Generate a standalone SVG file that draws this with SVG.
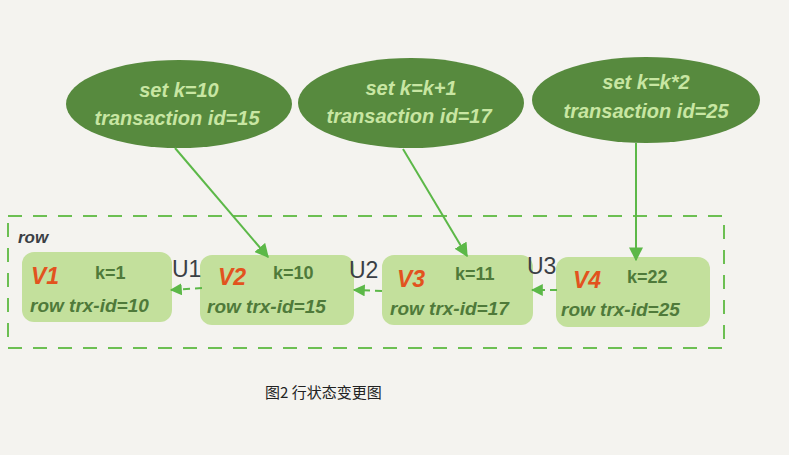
<svg xmlns="http://www.w3.org/2000/svg" width="789" height="455" viewBox="0 0 789 455">
<defs>
<marker id="ah" viewBox="0 0 10 10" refX="9" refY="5" markerWidth="7" markerHeight="7" orient="auto" markerUnits="strokeWidth">
<path d="M0,0 L10,5 L0,10 z" fill="#5cb848"/>
</marker>
<marker id="ahs" viewBox="0 0 10 10" refX="9" refY="5" markerWidth="6" markerHeight="6" orient="auto" markerUnits="strokeWidth">
<path d="M0,0 L10,5 L0,10 z" fill="#5cb848"/>
</marker>
</defs>
<style>
.ell{fill:#578a3e}
.et{font-family:"Liberation Sans","DejaVu Sans",sans-serif;font-size:20px;font-weight:bold;fill:#c8e6a2;text-anchor:middle;font-style:italic}
.box{fill:#c3e09c}
.v{font-family:"Liberation Sans","DejaVu Sans",sans-serif;font-size:23px;font-weight:bold;fill:#e2531e;font-style:italic}
.k{font-family:"Liberation Sans","DejaVu Sans",sans-serif;font-size:18px;font-weight:bold;fill:#4f7a3a}
.r{font-family:"Liberation Sans","DejaVu Sans",sans-serif;font-size:19px;font-weight:bold;fill:#4f7a3a;font-style:italic}
.u{font-family:"Liberation Sans","DejaVu Sans",sans-serif;font-size:23px;fill:#3a3f45}
.lnk{stroke:#5cb848;stroke-width:2;fill:none}
.dash{stroke:#5cb848;stroke-width:2;fill:none;stroke-dasharray:7 5}
</style>
<rect width="789" height="455" fill="#f4f3ef"/>
<rect x="8" y="216" width="716" height="132" fill="none" stroke="#6cbf52" stroke-width="2" stroke-dasharray="14 11"/>
<text x="18" y="243" font-family="Liberation Sans,sans-serif" font-size="17" font-weight="bold" font-style="italic" fill="#3a3f45">row</text>
<g id="e1"><ellipse class="ell" cx="179" cy="104" rx="113" ry="44"/><text class="et" x="179" y="97">set k=10</text><text class="et" x="177" y="125">transaction id=15</text></g>
<g id="e2"><ellipse class="ell" cx="411" cy="103" rx="113" ry="45"/><text class="et" x="411" y="95">set k=k+1</text><text class="et" x="409" y="123">transaction id=17</text></g>
<g id="e3"><ellipse class="ell" cx="646" cy="100" rx="114" ry="43"/><text class="et" x="646" y="89">set k=k*2</text><text class="et" x="646" y="118">transaction id=25</text></g>
<g id="n1"><rect class="box" x="22" y="252" width="150" height="70" rx="12"/><text class="v" x="31" y="284">V1</text><text class="k" x="95" y="279">k=1</text><text class="r" x="30" y="312">row trx-id=10</text></g>
<g id="n2"><rect class="box" x="200" y="255" width="154" height="70" rx="12"/><text class="v" x="218" y="285">V2</text><text class="k" x="273" y="279">k=10</text><text class="r" x="207" y="313">row trx-id=15</text></g>
<g id="n3"><rect class="box" x="382" y="255" width="151" height="70" rx="12"/><text class="v" x="397" y="287">V3</text><text class="k" x="455" y="280">k=11</text><text class="r" x="390" y="315">row trx-id=17</text></g>
<g id="n4"><rect class="box" x="556" y="257" width="154" height="70" rx="12"/><text class="v" x="573" y="288">V4</text><text class="k" x="627" y="283">k=22</text><text class="r" x="561" y="316">row trx-id=25</text></g>
<g id="labels"><text class="u" x="172" y="277">U1</text><text class="u" x="349" y="278">U2</text><text class="u" x="527" y="274">U3</text></g>
<g id="connectors">
<line class="lnk" x1="175" y1="148" x2="268" y2="257" marker-end="url(#ah)"/>
<line class="lnk" x1="403" y1="149" x2="467" y2="256" marker-end="url(#ah)"/>
<line class="lnk" x1="636" y1="143" x2="636" y2="260" marker-end="url(#ah)"/>
<line class="dash" x1="202" y1="288" x2="171" y2="290" marker-end="url(#ahs)"/>
<line class="dash" x1="382" y1="291" x2="354" y2="290" marker-end="url(#ahs)"/>
<line class="dash" x1="557" y1="290" x2="532" y2="290" marker-end="url(#ahs)"/>
</g>
<text x="265" y="398" font-family="Noto Sans CJK SC,sans-serif" font-size="15" fill="#222">图2 行状态变更图</text>
</svg>
